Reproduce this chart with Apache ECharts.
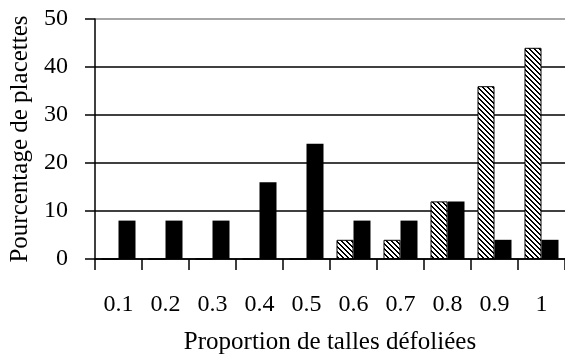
<!DOCTYPE html>
<html lang="fr">
<head>
  <meta charset="UTF-8" />
  <title>Proportion de talles défoliées</title>
  <script src="https://cdn.jsdelivr.net/npm/echarts@6/dist/echarts.min.js"></script>
  <style>
    html, body { margin: 0; padding: 0; width: 565px; height: 356px; overflow: hidden; background: #fff; }
    #chart { width: 565px; height: 356px; }
  </style>
</head>
<body>
<div id="chart"></div>
<script>
// categories = proportion of defoliated tillers
const categories = ['0.1', '0.2', '0.3', '0.4', '0.5', '0.6', '0.7', '0.8', '0.9', '1'];
// hatched bars (left of each pair)
const hatchedValues = [0, 0, 0, 0, 0, 4, 4, 12, 36, 44];
// black bars (right of each pair)
const blackValues = [8, 8, 8, 16, 24, 8, 8, 12, 4, 4];
const yTicks = [0, 10, 20, 30, 40, 50];

// diagonal hatch tile "\\\"
function hatchTile() {
  const c = document.createElement('canvas');
  c.width = 5; c.height = 5;
  const ctx = c.getContext('2d');
  ctx.fillStyle = '#fff';
  ctx.fillRect(0, 0, 5, 5);
  ctx.fillStyle = '#000';
  for (let i = 0; i < 5; i++) {
    ctx.fillRect(i, i, 1, 1);
    ctx.fillRect((i + 1) % 5, i, 1, 1);
  }
  return c;
}

const font = '"Liberation Serif", "Times New Roman", serif';
const chart = echarts.init(document.getElementById('chart'));
chart.setOption({
  animation: false,
  textStyle: { fontFamily: font },
  grid: { left: 95, right: 0, top: 19, bottom: 97, outerBoundsMode: 'none' },
  xAxis: {
    type: 'category',
    data: categories,
    name: 'Proportion de talles défoliées',
    nameLocation: 'middle',
    nameGap: 71,
    nameTextStyle: { fontFamily: font, fontSize: 25, color: '#000' },
    axisLine: { lineStyle: { color: '#000', width: 1.5 } },
    axisTick: { show: true, length: 11, lineStyle: { color: '#000', width: 1.5 } },
    axisLabel: { margin: 34, fontFamily: font, fontSize: 24, color: '#000' }
  },
  yAxis: {
    type: 'value',
    min: yTicks[0],
    max: yTicks[yTicks.length - 1],
    interval: 10,
    name: 'Pourcentage de placettes',
    nameLocation: 'middle',
    nameGap: 60,
    nameTextStyle: { fontFamily: font, fontSize: 25, color: '#000' },
    axisLine: { show: true, lineStyle: { color: '#000', width: 1.5 } },
    axisTick: { show: true, length: 10, lineStyle: { color: '#000', width: 1.5 } },
    axisLabel: { margin: 27, fontFamily: font, fontSize: 24, color: '#000' },
    splitLine: { lineStyle: { color: ['#000', '#000', '#000', '#000', '#000', '#888'], width: 1.5 } }
  },
  series: [
    {
      type: 'bar',
      data: hatchedValues,
      barWidth: 17,
      barGap: '0%',
      itemStyle: { color: { image: hatchTile(), repeat: 'repeat' }, borderColor: '#000', borderWidth: 1 }
    },
    {
      type: 'bar',
      data: blackValues,
      barWidth: 17,
      itemStyle: { color: '#000' }
    }
  ]
});
</script>
</body>
</html>
